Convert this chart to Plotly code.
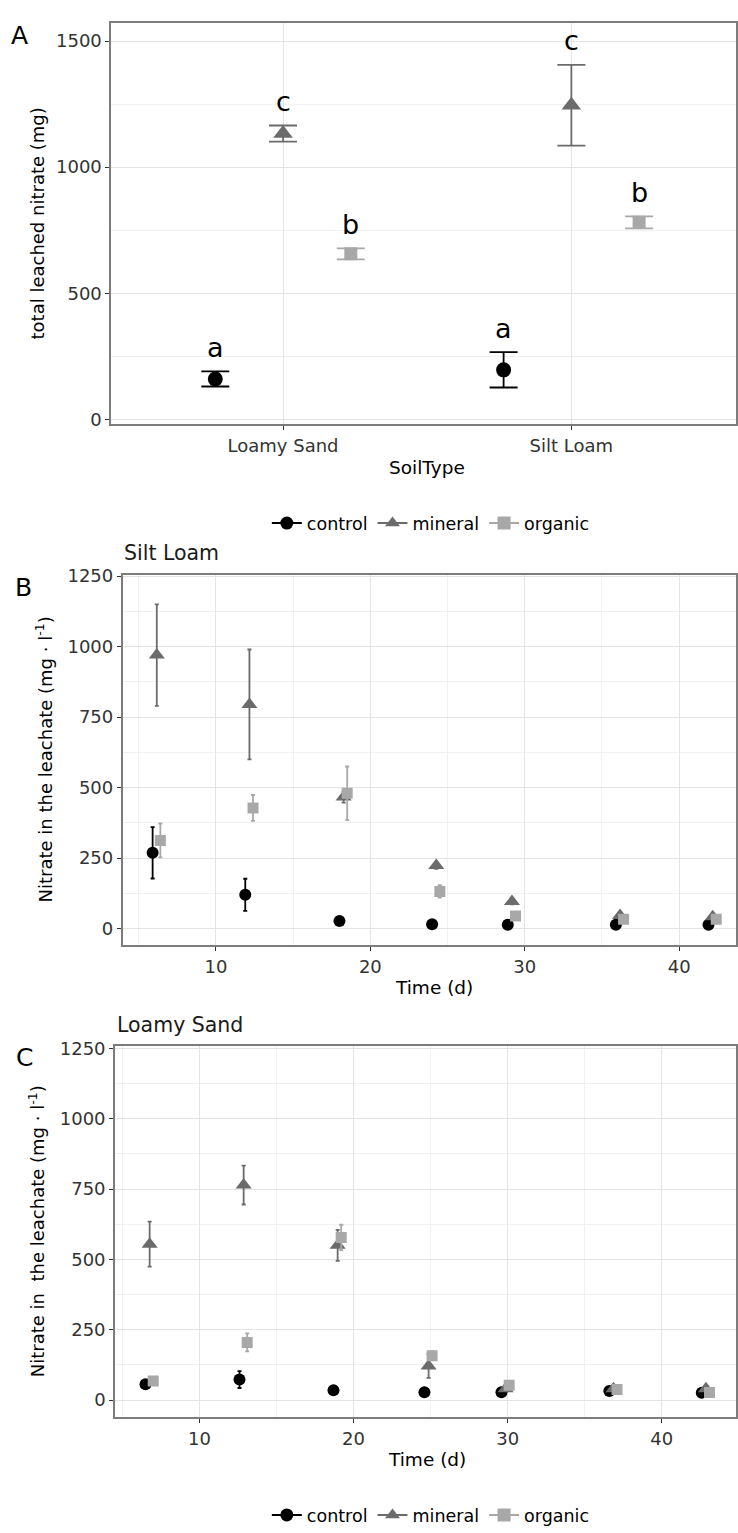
import plotly.graph_objects as go

W, H = 738, 1533

# ---------------- data: panel A (total leached nitrate) ----------------
soil_types = ["Loamy Sand", "Silt Loam"]
total_control = [160, 196]
total_control_se = [30, 70]
total_mineral = [1133, 1245]
total_mineral_se = [32, 160]
total_organic = [656, 781]
total_organic_se = [22, 24]
letters_control = ["a", "a"]
letters_mineral = ["c", "c"]
letters_organic = ["b", "b"]

# ---------------- data: panel B (Silt Loam, time series) ----------------
silt_days = [5.9, 11.9, 18.0, 24.0, 28.9, 35.9, 41.9]
silt_control = [269, 120, 27, 16, 14, 14, 14]
silt_control_se = [91, 57, 10, 6, 6, 6, 6]
silt_mineral = [970, 795, 467, 224, 96, 47, 42]
silt_mineral_se = [180, 195, 20, 12, 10, 8, 8]
silt_organic = [313, 428, 480, 132, 45, 33, 33]
silt_organic_se = [60, 46, 95, 22, 12, 8, 8]

# ---------------- data: panel C (Loamy Sand, time series) ----------------
loamy_days = [6.5, 12.6, 18.7, 24.6, 29.6, 36.6, 42.6]
loamy_control = [56, 73, 35, 28, 28, 32, 26]
loamy_control_se = [8, 30, 6, 5, 5, 5, 5]
loamy_mineral = [554, 764, 550, 121, 40, 40, 40]
loamy_mineral_se = [80, 69, 55, 42, 8, 8, 8]
loamy_organic = [68, 205, 578, 158, 53, 38, 27]
loamy_organic_se = [10, 32, 45, 15, 8, 6, 6]

treatments = ["control", "mineral", "organic"]

# ---------------- styles ----------------
FONT = "DejaVu Sans"
COL = {"control": "#000000", "mineral": "#6b6b6b", "organic": "#a8a8a8"}
SYM = {"control": "circle", "mineral": "triangle-up", "organic": "square"}
SIZE_A = {"control": 15, "mineral": 17, "organic": 13}
SIZE_T = {"control": 12, "mineral": 14, "organic": 11}
DODGE_A = {"control": -0.235, "mineral": 0.0, "organic": 0.235}
DODGE_T = {"control": 0.0, "mineral": 0.27, "organic": 0.5}
BORDER = "#7c7c7c"
GRID = "#e4e4e4"
MINOR = "#f1f1f1"
TICKC = "#333333"


def px_x(p):
    return p / W


def px_y(p):
    return 1 - p / H


fig = go.Figure()

# ---------------- Panel A traces ----------------
a_series = {
    "control": (total_control, total_control_se, letters_control),
    "mineral": (total_mineral, total_mineral_se, letters_mineral),
    "organic": (total_organic, total_organic_se, letters_organic),
}
annotations = []
for t in treatments:
    vals, se, lets = a_series[t]
    xs = [i + 1 + DODGE_A[t] for i in range(len(soil_types))]
    fig.add_trace(go.Scatter(
        x=xs, y=vals, mode="markers", xaxis="x", yaxis="y", showlegend=False,
        marker=dict(color=COL[t], symbol=SYM[t], size=SIZE_A[t]),
        error_y=dict(type="data", array=se, color=COL[t], thickness=1.8, width=14),
    ))
    for x, v, s, l in zip(xs, vals, se, lets):
        annotations.append(dict(
            x=x, y=v + s, xref="x", yref="y", text=l, showarrow=False,
            yanchor="middle", yshift=24, font=dict(size=27, color="#000", family=FONT)))

# ---------------- Panels B, C traces ----------------
panels = [
    ("x2", "y2", silt_days, {"control": (silt_control, silt_control_se),
                              "mineral": (silt_mineral, silt_mineral_se),
                              "organic": (silt_organic, silt_organic_se)}),
    ("x3", "y3", loamy_days, {"control": (loamy_control, loamy_control_se),
                               "mineral": (loamy_mineral, loamy_mineral_se),
                               "organic": (loamy_organic, loamy_organic_se)}),
]
for xa, ya, days, series in panels:
    for t in treatments:
        vals, se = series[t]
        fig.add_trace(go.Scatter(
            x=[d + DODGE_T[t] for d in days], y=vals, mode="markers",
            xaxis=xa, yaxis=ya, showlegend=False,
            marker=dict(color=COL[t], symbol=SYM[t], size=SIZE_T[t]),
            error_y=dict(type="data", array=se, color=COL[t], thickness=1.8, width=2),
        ))

# ---------------- legend-only traces ----------------
for lg in ["legend", "legend2"]:
    for t in treatments:
        fig.add_trace(go.Scatter(
            x=[None], y=[None], mode="lines+markers", name=t, legend=lg,
            xaxis="x", yaxis="y",
            line=dict(color=COL[t], width=2),
            marker=dict(color=COL[t], symbol=SYM[t], size=13),
        ))

# ---------------- axes ----------------
def axis_common():
    return dict(
        showline=True, mirror=True, linecolor=BORDER, linewidth=1.6,
        ticks="outside", ticklen=4, tickwidth=1, tickcolor=TICKC,
        tickfont=dict(size=18, color=TICKC, family=FONT),
        showgrid=True, gridcolor=GRID, gridwidth=1.3, zeroline=False,
    )

# panel A
xa = axis_common()
xa.update(domain=[px_x(111.5), 1.0], range=[0.404, 2.571], anchor="y",
          tickmode="array", tickvals=[1, 2], ticktext=soil_types)
ya = axis_common()
ya.update(domain=[px_y(420), px_y(14)], range=[-20, 1572], anchor="x",
          tickmode="linear", tick0=0, dtick=500,
          minor=dict(dtick=250, tick0=0, showgrid=True, gridcolor=MINOR, gridwidth=1, ticks=""))

# panel B
xb = axis_common()
xb.update(domain=[px_x(123), 1.0], range=[3.96, 43.68], anchor="y2",
          tickmode="linear", tick0=0, dtick=10,
          minor=dict(dtick=5, tick0=0, showgrid=True, gridcolor=MINOR, gridwidth=1, ticks=""))
yb = axis_common()
yb.update(domain=[px_y(946.7), px_y(572)], range=[-58.6, 1255.3], anchor="x2",
          tickmode="linear", tick0=0, dtick=250,
          minor=dict(dtick=125, tick0=0, showgrid=True, gridcolor=MINOR, gridwidth=1, ticks=""))

# panel C
xc = axis_common()
xc.update(domain=[px_x(115.3), 1.0], range=[4.52, 44.82], anchor="y3",
          tickmode="linear", tick0=0, dtick=10,
          minor=dict(dtick=5, tick0=0, showgrid=True, gridcolor=MINOR, gridwidth=1, ticks=""))
yc = axis_common()
yc.update(domain=[px_y(1424), px_y(1048.3)], range=[-60.8, 1259.3], anchor="x3",
          tickmode="linear", tick0=0, dtick=250,
          minor=dict(dtick=125, tick0=0, showgrid=True, gridcolor=MINOR, gridwidth=1, ticks=""))

# ---------------- text annotations ----------------
def note(text, x, y, size, rot=0, xanchor="center", color="#000"):
    annotations.append(dict(
        text=text, x=px_x(x), y=px_y(y), xref="paper", yref="paper",
        showarrow=False, textangle=rot, xanchor=xanchor, yanchor="middle",
        font=dict(size=size, color=color, family=FONT)))

note("A", 20, 27, 25)
note("B", 24, 585, 25)
note("C", 25, 1060, 25)
note("Silt Loam", 122, 550, 20.5, xanchor="left", color="#1a1a1a")
note("Loamy Sand", 115, 1027, 20.5, xanchor="left", color="#1a1a1a")
note("total leached nitrate (mg)", 38, 217, 18, rot=-90)
note("SoilType", 428, 464, 18.5)
note("Nitrate in the leachate (mg \u00b7 l<sup>-1</sup>)", 44, 759, 18, rot=-90)
note("Time (d)", 435, 989, 18.5)
note("Nitrate in\u00a0 the leachate (mg \u00b7 l<sup>-1</sup>)", 37, 1236, 18, rot=-90)
note("Time (d)", 428, 1467, 18.5)

legend_style = dict(
    orientation="h", xanchor="center", yanchor="middle",
    font=dict(size=17.5, color="#000", family=FONT),
    bgcolor="rgba(0,0,0,0)", itemwidth=30, tracegroupgap=0,
)

fig.update_layout(
    width=W, height=H,
    margin=dict(l=0, r=0, t=0, b=0, pad=0),
    paper_bgcolor="white", plot_bgcolor="white",
    font=dict(family=FONT),
    xaxis=xa, yaxis=ya, xaxis2=xb, yaxis2=yb, xaxis3=xc, yaxis3=yc,
    legend=dict(x=px_x(432), y=px_y(520), **legend_style),
    legend2=dict(x=px_x(432), y=px_y(1523), **legend_style),
    annotations=annotations,
)

fig.write_html("out.html")
